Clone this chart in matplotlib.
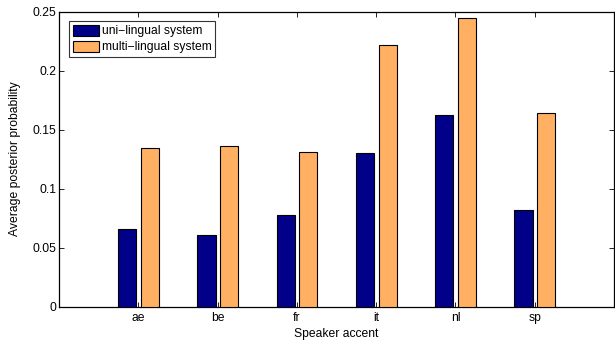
import matplotlib
matplotlib.use("Agg")
import matplotlib.pyplot as plt
import numpy as np

categories = ["ae", "be", "fr", "it", "nl", "sp"]
uni_lingual = [0.066, 0.061, 0.078, 0.130, 0.162, 0.082]
multi_lingual = [0.134, 0.136, 0.131, 0.222, 0.245, 0.164]
yticks = [0, 0.05, 0.1, 0.15, 0.2, 0.25]
ytick_labels = ["0", "0.05", "0.1", "0.15", "0.2", "0.25"]

plt.rcParams['font.family'] = ['Liberation Sans', 'DejaVu Sans']
FS = 8.7

fig = plt.figure(figsize=(6.15, 3.45), dpi=100)
ax = fig.add_axes([59/615, 38.5/345, 555/615, 294.8/345])

x = np.arange(1, len(categories) + 1)
w = 0.23
ax.bar(x - 0.14, uni_lingual, width=w, color="#000088", edgecolor="black",
       linewidth=0.8, label="uni\u2212lingual system", zorder=3)
ax.bar(x + 0.145, multi_lingual, width=w, color="#FFB062", edgecolor="black",
       linewidth=0.8, label="multi\u2212lingual system", zorder=3)

ax.set_xlim(0, 7)
ax.set_ylim(0, 0.25)
ax.set_xticks(x)
ax.set_xticklabels(categories)
ax.set_yticks(yticks)
ax.set_yticklabels(ytick_labels)
ax.tick_params(direction="in", length=3.5, width=0.6, top=True, right=True,
               labelsize=FS, colors="black")
ax.tick_params(axis="y", pad=2)
ax.tick_params(axis="x", pad=4)
for s in ax.spines.values():
    s.set_linewidth(0.9)

ax.set_xlabel("Speaker accent", fontsize=FS, labelpad=3)
ax.set_ylabel("Average posterior probability", fontsize=FS)
ax.yaxis.set_label_coords(-0.068, 0.5)

leg = ax.legend(loc="upper left", bbox_to_anchor=(0.018, 0.968), fontsize=FS,
                frameon=True, fancybox=False, shadow=False, borderaxespad=0,
                handlelength=2.2, handleheight=1.0, handletextpad=0.2,
                labelspacing=0.3, borderpad=0.3)
leg.get_frame().set_edgecolor("black")
leg.get_frame().set_linewidth(0.8)

fig.savefig("out.png", dpi=100)
